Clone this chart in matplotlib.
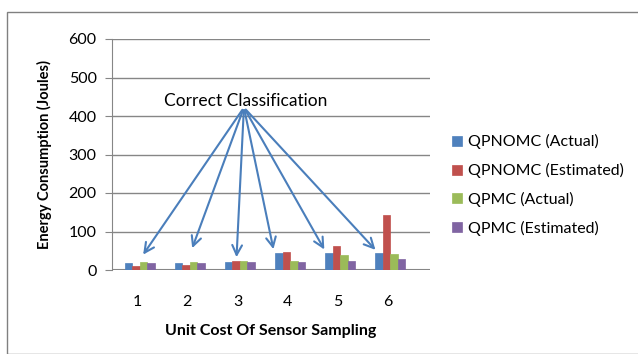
import matplotlib
matplotlib.use("Agg")
import matplotlib.pyplot as plt
import numpy
from matplotlib.patches import Rectangle

plt.rcParams['font.family'] = ['Lato', 'DejaVu Sans']

# values
categories = ['1', '2', '3', '4', '5', '6']
qpnomc_actual = [18, 18, 21, 44, 44, 44]
qpnomc_estimated = [10, 13, 23, 47, 62, 143]
qpmc_actual = [21, 21, 23, 23, 40, 42]
qpmc_estimated = [18, 18, 20, 21, 23, 28]
series_names = ['QPNOMC (Actual)', 'QPNOMC (Estimated)', 'QPMC (Actual)', 'QPMC (Estimated)']
colors = ['#4F81BD', '#C0504D', '#9BBB59', '#8064A2']

# where the "Correct Classification" arrows land (annotation layout)
arrow_tips = [(0.09, 34), (1.08, 50), (1.98, 26), (2.73, 47), (3.76, 47), (4.79, 47)]

fig = plt.figure(figsize=(6.38, 3.54), dpi=100)
ax = fig.add_axes([112 / 638, 84 / 354, 318 / 638, 231 / 354])

x = numpy.arange(len(categories))
width = 0.15
all_series = [qpnomc_actual, qpnomc_estimated, qpmc_actual, qpmc_estimated]
for k, (vals, name, col) in enumerate(zip(all_series, series_names, colors)):
    ax.bar(x + 0.05 + (k - 1.5) * width, vals, width, color=col, label=name,
           edgecolor=col, linewidth=0.5, zorder=3)

ax.set_ylim(0, 600)
ax.set_xlim(-0.5, 5.84)
ax.set_yticks(range(0, 601, 100))
ax.set_xticks(x)
ax.set_xticklabels(categories)
ax.tick_params(axis='y', length=5, color='#868686', labelsize=11.5, pad=6)
ax.tick_params(axis='x', length=0, labelsize=11.5, pad=18)
ax.grid(axis='y', color='#868686', linewidth=1, zorder=0)
for s in ['top', 'right', 'bottom']:
    ax.spines[s].set_visible(False)
ax.spines['left'].set_color('#868686')
ax.axhline(0, color='#868686', linewidth=1.5, zorder=2)

ax.set_ylabel('Energy Consumption (Joules)', fontsize=10.5, fontweight='bold')
ax.yaxis.set_label_coords(-0.19, 0.5)
ax.set_xlabel('Unit Cost Of Sensor Sampling', fontsize=11.5, fontweight='bold', labelpad=11)

ax.text(2.17, 440, 'Correct Classification', fontsize=12.5, ha='center', va='center', zorder=5)
for tx, ty in arrow_tips:
    ax.annotate('', xy=(tx, ty), xytext=(2.13, 422),
                arrowprops=dict(arrowstyle='->,head_length=0.7,head_width=0.35',
                                color='#4A7EBB', lw=1.5), zorder=4)

handles, labels = ax.get_legend_handles_labels()
fig.legend(handles, labels, loc='upper left', bbox_to_anchor=(438 / 638, 1 - 120 / 354),
           frameon=False, fontsize=11.5, handlelength=0.6, handleheight=0.6,
           handletextpad=0.4, labelspacing=0.86)

fig.patches.append(Rectangle((7 / 638, 0), 1.0, 1 - 12 / 354, transform=fig.transFigure,
                             fill=False, edgecolor='#808080', linewidth=1))

fig.savefig('out.png', dpi=100)
